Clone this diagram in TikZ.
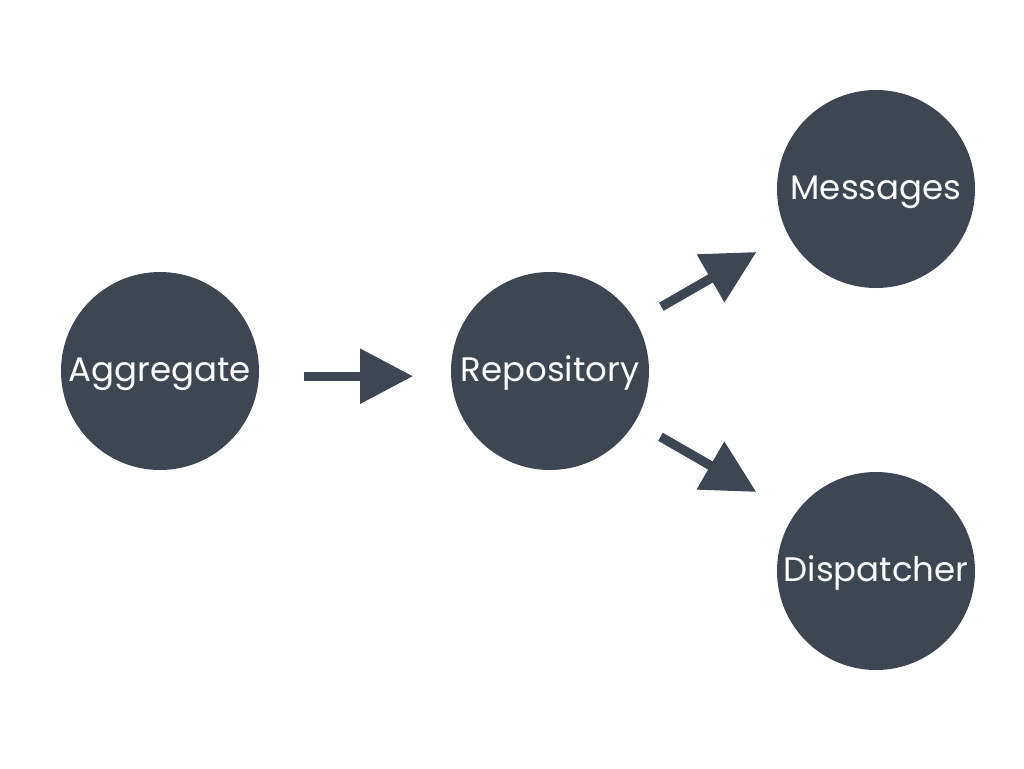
\documentclass[tikz,border=0pt]{standalone}
\usepackage{fontspec}
\setmainfont{Poppins}
\usetikzlibrary{arrows.meta}
\definecolor{slate}{RGB}{61,70,81}
\begin{document}
\begin{tikzpicture}[x=0.75pt,y=-0.75pt,
  entity/.style={circle,fill=slate,draw=none,inner sep=0pt,minimum size=148.5pt,
    text=white,text height=15pt,text depth=0pt,font=\fontsize{25.5}{30}\selectfont},
  flow/.style={draw=slate,line width=7pt,line cap=butt,
    -{Triangle[length=39.75pt,width=39.75pt]}}]
  \useasboundingbox (0,0) rectangle (1024,768);
  \node[entity] (agg)  at (160,371) {Aggregate};
  \node[entity] (repo) at (550,371) {Repository};
  \node[entity] (msg)  at (876,189) {Messages};
  \node[entity] (disp) at (876,571) {Dispatcher};
  \draw[flow,shorten <=33.4pt,shorten >=28.4pt] (agg.-3.65) -- (repo.183.65);
  \draw[flow,shorten <=22pt,shorten >=26.9pt] (repo.30.3) -- (msg.-153);
  \draw[flow,shorten <=22pt,shorten >=33.2pt] (repo.-31.2) -- (disp.145.7);
\end{tikzpicture}
\end{document}
